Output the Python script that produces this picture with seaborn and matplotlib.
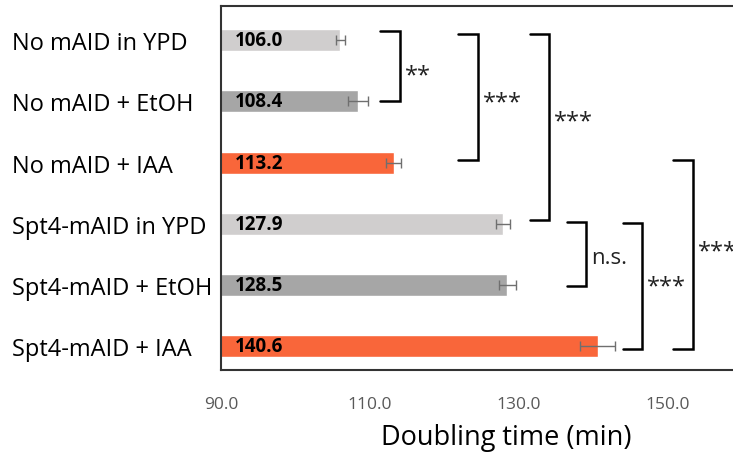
import matplotlib
matplotlib.use("Agg")
import matplotlib.pyplot as plt
import seaborn as sns
import pandas as pd

categories = ["No mAID in YPD", "No mAID + EtOH", "No mAID + IAA",
              "Spt4-mAID in YPD", "Spt4-mAID + EtOH", "Spt4-mAID + IAA"]
values = [106.0, 108.4, 113.2, 127.9, 128.5, 140.6]
errors = [0.6, 1.3, 1.0, 1.0, 1.1, 2.3]
bar_colors = ["#D0CECE", "#A6A6A6", "#F9663A", "#D0CECE", "#A6A6A6", "#F9663A"]
xticks = [90.0, 110.0, 130.0, 150.0]
# significance brackets: (first bar index, last bar index, label)
comparisons = [(0, 1, "**"), (0, 2, "***"), (0, 3, "***"),
               (3, 4, "n.s."), (3, 5, "***"), (2, 5, "***")]
bracket_x = [111.4, 121.9, 131.5, 136.5, 144.0, 150.8]
bracket_pad = [(-0.15, 0.0), (-0.11, -0.05), (-0.11, -0.06),
               (-0.03, 0.02), (-0.01, 0.05), (-0.04, 0.05)]
label_y = [0.49, 0.93, 1.24, 3.55, 3.94, 3.36]

sns.set_theme(style="white")
plt.rcParams["font.family"] = ["Open Sans", "DejaVu Sans"]

df = pd.DataFrame({"cat": categories, "val": values})
fig = plt.figure(figsize=(7.33, 4.56), dpi=100)
ax = fig.add_axes([221 / 733, 85 / 456, 570 / 733, 364 / 456])

sns.barplot(data=df, y="cat", x="val", hue="cat", palette=bar_colors,
            orient="h", width=0.36, legend=False, ax=ax, saturation=1)
ax.errorbar(values, range(len(values)), xerr=errors, fmt="none",
            ecolor="#6f6f6f", elinewidth=1.0, capsize=3.5, capthick=1.0)

for i, v in enumerate(values):
    ax.text(91.9, i, f"{v:.1f}", ha="left", va="center", fontsize=13.5,
            fontweight="bold", color="black")

bw = 2.6
for (a, b, lab), bx, (pa, pb), ly in zip(comparisons, bracket_x, bracket_pad, label_y):
    y1, y2 = a + pa, b + pb
    ax.plot([bx, bx + bw, bx + bw, bx], [y1, y1, y2, y2], color="black",
            lw=1.8, clip_on=False, solid_joinstyle="miter")
    if lab == "n.s.":
        ax.text(bx + bw + 0.6, ly, lab, ha="left", va="center",
                fontsize=16, color="#222222", clip_on=False)
    else:
        ax.text(bx + bw + 0.7, ly + 0.09, lab, ha="left", va="center",
                fontsize=17, color="#222222", clip_on=False)

ax.set_xlim(90, 166.6)
ax.set_ylim(5.39, -0.56)
ax.set_xticks(xticks)
ax.set_xticklabels([f"{t:.1f}" for t in xticks], color="#595959", fontsize=12.5)
ax.tick_params(axis="x", length=0, pad=19)
ax.tick_params(axis="y", length=0, pad=150.5, labelsize=17, labelcolor="black")
for lbl in ax.get_yticklabels():
    lbl.set_horizontalalignment("left")
ax.set_ylabel("")
ax.set_xlabel("Doubling time (min)", fontsize=19.5, color="black", labelpad=8)
for s in ["left", "top", "bottom"]:
    ax.spines[s].set_color("#333333")
    ax.spines[s].set_linewidth(1.5)
ax.spines["right"].set_visible(False)

fig.savefig("out.png", dpi=100)
